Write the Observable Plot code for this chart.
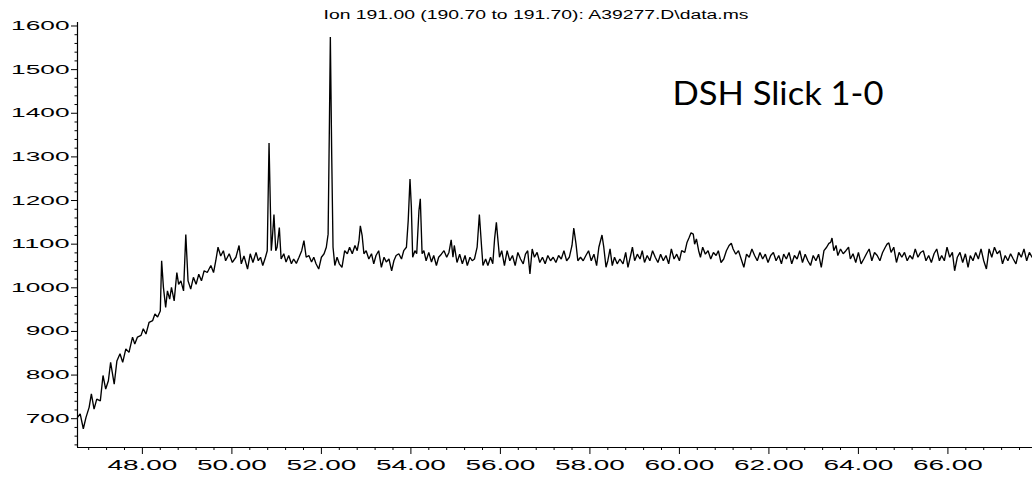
<!DOCTYPE html>
<html>
<head>
<meta charset="utf-8">
<script src="https://cdn.jsdelivr.net/npm/d3@7"></script>
<script src="https://cdn.jsdelivr.net/npm/@observablehq/plot@0.6"></script>
<style>
  html, body { margin: 0; padding: 0; background: #fff; }
  #chart { width: 1032px; height: 478px; }
</style>
</head>
<body>
<div id="chart"></div>
<script>
const titleText = "Ion 191.00 (190.70 to 191.70): A39277.D\\data.ms";
const sampleLabel = "DSH Slick 1-0";

const xTickLabels = [48, 50, 52, 54, 56, 58, 60, 62, 64, 66];
const yTickLabels = [700, 800, 900, 1000, 1100, 1200, 1300, 1400, 1500, 1600];
const xDomain = [46.55, 67.89];
const yDomain = [634, 1608];

// retention time (min) and abundance
const timesA = [46.55,46.61,46.68,46.74,46.81,46.86,46.92,46.98,47.06,47.12,47.18,47.24,47.29,47.37,47.43,47.50,47.56,47.63,47.70,47.78,47.83,47.89,47.97,48.02,48.08,48.15,48.23,48.28,48.34,48.40,48.43,48.47,48.52,48.56,48.61,48.65,48.71,48.77,48.81,48.86,48.92,48.97,49.02,49.08,49.14,49.20,49.26,49.32,49.38,49.45,49.53,49.59,49.64,49.69,49.75,49.81,49.86,49.94,50.01,50.09,50.16,50.21,50.27,50.35,50.41,50.47,50.54,50.59,50.64];
const abundA = [703,711,677,703,726,757,722,745,741,799,768,787,829,779,832,849,829,860,852,887,871,887,891,906,894,921,925,940,933,947,1062,1001,955,993,974,1001,970,1035,1008,1016,993,1122,1016,997,1024,1008,1031,1016,1039,1035,1051,1035,1062,1093,1073,1085,1062,1078,1058,1070,1097,1055,1073,1043,1078,1058,1081,1062,1070];

const timesB = [50.69,50.75,50.79,50.83,50.88,50.90,50.94,50.98,51.01,51.06,51.10,51.16,51.21,51.27,51.33,51.38,51.44,51.50,51.56,51.61,51.66,51.72,51.78,51.83,51.88,51.94,52.00,52.06,52.11,52.15,52.18,52.20,52.23,52.26,52.30,52.35,52.40,52.46,52.52,52.58,52.63,52.69,52.75,52.80,52.84,52.87,52.91,52.95,53.00,53.06,53.12,53.17,53.22,53.28,53.34,53.40,53.45,53.51,53.57,53.62,53.67,53.73,53.79,53.84,53.90,53.94,53.98,54.01,54.04,54.09,54.13,54.18,54.21,54.25,54.29,54.34,54.40,54.46,54.51,54.57,54.62];
const abundB = [1051,1070,1085,1332,1085,1108,1168,1085,1093,1138,1066,1078,1059,1074,1055,1066,1056,1070,1085,1108,1070,1074,1059,1070,1055,1043,1070,1078,1093,1123,1383,1575,1307,1093,1051,1070,1055,1047,1085,1078,1093,1078,1097,1085,1108,1142,1120,1078,1085,1066,1078,1055,1074,1085,1047,1070,1059,1066,1039,1062,1074,1078,1066,1085,1093,1154,1249,1185,1070,1085,1078,1177,1204,1078,1085,1062,1081,1059,1074,1051,1070];

const timesC = [54.68,54.74,54.80,54.85,54.90,54.94,54.97,55.03,55.09,55.15,55.21,55.26,55.32,55.37,55.42,55.48,55.53,55.58,55.61,55.67,55.72,55.78,55.83,55.87,55.91,55.94,55.98,56.03,56.09,56.15,56.21,56.27,56.33,56.39,56.45,56.51,56.56,56.61,56.66,56.71,56.76,56.82,56.88,56.94,57.00,57.06,57.12,57.18,57.24,57.30,57.36,57.42,57.48,57.54,57.60,57.64,57.69,57.73,57.79,57.85,57.91,57.97,58.03,58.09,58.15,58.20,58.27,58.31,58.36,58.40,58.45,58.50,58.55,58.61,58.67];
const abundC = [1077,1085,1070,1081,1110,1070,1097,1058,1077,1055,1074,1051,1070,1062,1066,1093,1168,1093,1051,1066,1051,1070,1055,1112,1150,1115,1070,1085,1051,1085,1062,1074,1051,1081,1066,1055,1077,1085,1032,1089,1070,1081,1058,1070,1055,1074,1062,1070,1058,1074,1066,1085,1062,1070,1097,1137,1100,1062,1070,1062,1074,1085,1062,1077,1051,1093,1121,1093,1047,1062,1089,1051,1070,1055,1066];

const timesD = [58.74,58.80,58.85,58.91,58.95,59.00,59.06,59.12,59.17,59.22,59.28,59.34,59.40,59.46,59.52,59.58,59.64,59.70,59.76,59.82,59.88,59.94,60.00,60.05,60.12,60.17,60.22,60.26,60.31,60.34,60.38,60.43,60.47,60.52,60.58,60.64,60.70,60.76,60.82,60.87,60.93,60.99,61.05,61.11,61.16,61.20,61.26,61.32,61.38,61.44,61.50,61.56,61.62,61.68,61.74,61.80,61.86,61.92,61.98,62.04,62.10,62.16,62.22,62.28,62.33,62.39,62.45,62.51,62.57,62.63,62.69,62.75,62.81,62.87,62.93,62.99,63.05,63.11,63.17,63.23,63.29,63.34];
const abundD = [1055,1081,1047,1074,1093,1062,1077,1066,1085,1058,1074,1062,1085,1070,1058,1077,1062,1074,1055,1089,1066,1077,1062,1085,1081,1104,1116,1126,1123,1100,1112,1085,1070,1093,1077,1085,1066,1081,1074,1085,1058,1066,1085,1097,1102,1089,1077,1085,1066,1047,1077,1070,1089,1074,1062,1081,1066,1077,1058,1074,1081,1062,1074,1055,1077,1066,1081,1055,1074,1066,1085,1058,1077,1062,1051,1074,1062,1077,1047,1085,1093,1102];

const timesE = [63.38,63.41,63.45,63.50,63.54,63.60,63.66,63.72,63.78,63.82,63.88,63.94,64.00,64.06,64.12,64.18,64.24,64.30,64.36,64.42,64.48,64.54,64.60,64.64,64.68,64.73,64.79,64.85,64.91,64.97,65.03,65.09,65.15,65.21,65.27,65.33,65.39,65.45,65.51,65.57,65.63,65.69,65.75,65.81,65.86,65.92,65.98,66.04,66.10,66.15,66.21,66.27,66.33,66.39,66.45,66.50,66.56,66.62,66.68,66.74,66.80,66.86,66.92,66.98,67.04,67.10,67.16,67.22,67.28,67.34,67.40,67.46,67.52,67.58,67.64,67.70,67.76,67.82,67.88];
const abundE = [1104,1114,1085,1097,1074,1089,1078,1085,1093,1066,1078,1058,1081,1055,1066,1078,1089,1062,1081,1074,1062,1081,1093,1100,1103,1081,1093,1058,1081,1070,1081,1062,1074,1066,1089,1070,1081,1085,1062,1074,1058,1078,1089,1062,1074,1062,1093,1070,1081,1039,1070,1081,1058,1078,1047,1074,1062,1081,1066,1089,1062,1043,1089,1070,1093,1078,1085,1055,1074,1062,1078,1066,1055,1081,1070,1089,1062,1081,1070];

const times = [].concat(timesA, timesB, timesC, timesD, timesE);
const abund = [].concat(abundA, abundB, abundC, abundD, abundE);
const trace = times.slice(0, Math.min(times.length, abund.length)).map((t, i) => ({t, v: abund[i]}));

const minorX = d3.range(46.8, 67.8, 0.4).map(d => +d.toFixed(1)).filter(d => !xTickLabels.some(m => Math.abs(m - d) < 1e-6));
const minorY = d3.range(640, 1601, 20).filter(d => d % 100 !== 0);

const svg = Plot.plot({
  width: 1032,
  height: 478,
  marginLeft: 77,
  marginRight: 0,
  marginTop: 22,
  marginBottom: 31,
  style: {fontFamily: "'Liberation Sans', Arial, sans-serif", background: "#fff", color: "#000", overflow: "visible"},
  x: {domain: xDomain, label: null},
  y: {domain: yDomain, label: null},
  marks: [
    Plot.axisX(minorX, {tickSize: 3, tickFormat: () => "", stroke: "#000"}),
    Plot.axisX(xTickLabels, {tickSize: 7, tickPadding: 6, tickFormat: d => d.toFixed(2), fontSize: 14, fill: "#000", stroke: "#000"}),
    Plot.axisY(minorY, {tickSize: 2.5, tickFormat: () => "", stroke: "#000"}),
    Plot.axisY(yTickLabels, {tickSize: 6, tickPadding: 2, tickFormat: d => String(d), fontSize: 12.5, fill: "#000", stroke: "#000"}),
    Plot.ruleX([xDomain[0]], {stroke: "#000", strokeWidth: 1.2}),
    Plot.ruleY([yDomain[0]], {stroke: "#000", strokeWidth: 1.2}),
    Plot.line(trace, {x: "t", y: "v", stroke: "#000", strokeWidth: 1.35, strokeLinejoin: "miter"}),
    Plot.text([titleText], {text: d => d, frameAnchor: "top", dx: -19, dy: -4, lineAnchor: "bottom", textAnchor: "middle", fontSize: 12, fill: "#000"}),
    Plot.text([sampleLabel], {text: d => d, frameAnchor: "top-left", dx: 595, dy: 82, lineAnchor: "bottom", textAnchor: "start", fontSize: 33, fontFamily: "Lato, 'Open Sans', sans-serif", fill: "#000"})
  ]
});

svg.querySelectorAll("text").forEach(el => {
  const s = el.textContent;
  if (/^\d+\.00$/.test(s)) {
    el.setAttribute("textLength", 70);
    el.setAttribute("lengthAdjust", "spacingAndGlyphs");
  } else if (/^\d{3,4}$/.test(s)) {
    el.setAttribute("textLength", s.length * 14.6);
    el.setAttribute("lengthAdjust", "spacingAndGlyphs");
  } else if (s === titleText) {
    el.setAttribute("textLength", 425);
    el.setAttribute("lengthAdjust", "spacingAndGlyphs");
  } else if (s === sampleLabel) {
    el.setAttribute("textLength", 211);
    el.setAttribute("lengthAdjust", "spacingAndGlyphs");
  }
});

document.getElementById("chart").appendChild(svg);
</script>
</body>
</html>
